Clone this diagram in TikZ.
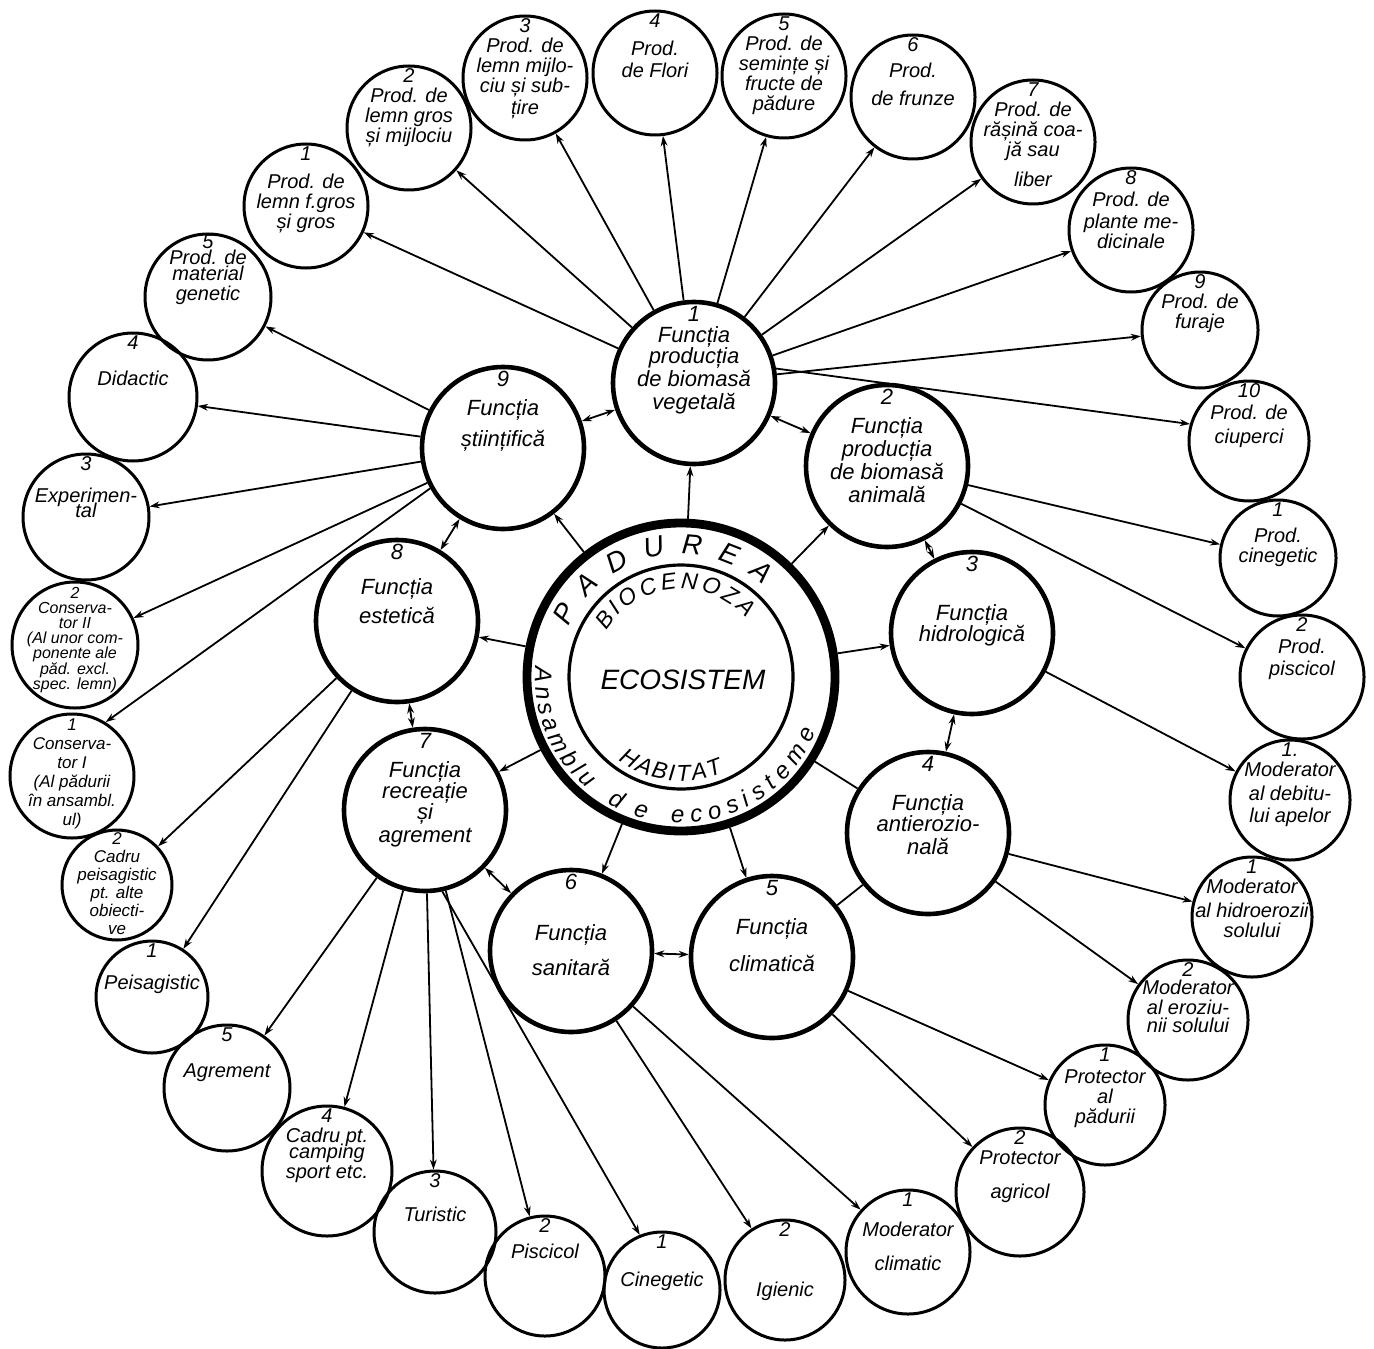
\documentclass[tikz,border=0pt]{standalone}
\usepackage{fontspec}
\setmainfont{Liberation Sans}
\usetikzlibrary{arrows.meta, positioning, decorations.text}
\newcommand{\tightlines}{\lineskiplimit=-20pt\relax}

\begin{document}
\begin{tikzpicture}[x=0.5pt, y=0.5pt,
  ring/.style={circle, draw=black, line width=4.4pt, minimum size=154pt, inner sep=0pt},
  core/.style={circle, draw=black, line width=1.6pt, minimum size=112pt, inner sep=0pt},
  func/.style={circle, draw=black, line width=2.3pt, minimum size=81pt, inner sep=0pt},
  prod/.style={circle, draw=black, line width=1.5pt, minimum size=62pt, inner sep=0pt},
  functext/.style={align=center, inner sep=0pt,
                   font=\fontsize{11}{11.5}\selectfont\itshape\tightlines},
  prodtext/.style={align=center, inner sep=0pt,
                   font=\fontsize{10}{10}\selectfont\itshape\tightlines},
  arctext/.style 2 args={decorate, decoration={text along path, text align={fit to path},
                  text={|\fontsize{#1}{#1}\selectfont\itshape|#2}}},
  arrow/.style={-{Stealth[length=5pt, width=3.4pt]}, line width=0.9pt},
  twoway/.style={{Stealth[length=5pt, width=3.4pt]}-{Stealth[length=5pt, width=3.4pt]}, line width=0.9pt},
  link/.style={line width=0.9pt}
]
  \fill[white] (0,0) rectangle (1374,-1348);
  \useasboundingbox (0,0) rectangle (1374,-1348);

  % centre
  \node[ring] (eco) at (681,-677) {};
  \node[core] (bio) at (681,-677) {};
  \node[font=\fontsize{14}{14}\selectfont\itshape] (ecot) at (683,-680) {ECOSISTEM};
  \path[arctext={14}{PADUREA}]
    ([shift={(156:123)}]eco.center) arc[start angle=156, end angle=48, radius=123];
  \path[arctext={11.5}{BIOCENOZA}]
    ([shift={(148:88)}]eco.center) arc[start angle=148, end angle=42, radius=88];
  \path[arctext={11.5}{HABITAT}]
    ([shift={(233:104)}]eco.center) arc[start angle=233, end angle=294, radius=104];
  \path[arctext={12}{Ansamblu}]
    ([shift={(176:146)}]eco.center) arc[start angle=176, end angle=230, radius=146];
  \path[arctext={12}{de}]
    ([shift={(240:146)}]eco.center) arc[start angle=240, end angle=256, radius=146];
  \path[arctext={12}{ecosisteme}]
    ([shift={(266:146)}]eco.center) arc[start angle=266, end angle=338, radius=146];

  % functions
  \node[func] (veget)  at (694,-383) {};
  \node[func] (anim)   at (887,-466) {};
  \node[func] (hidro)  at (972,-633) {};
  \node[func] (antier) at (928,-833) {};
  \node[func] (clima)  at (772,-957) {};
  \node[func] (sanit)  at (571,-951) {};
  \node[func] (recr)   at (425,-810) {};
  \node[func] (estet)  at (397,-621) {};
  \node[func] (stiint) at (503,-448) {};

  \node[functext, below=3pt of veget.north]  (veget-t)  {1\\[-1pt]Funcția\\[-1pt]producția\\de biomasă\\vegetală};
  \node[functext, below=3pt of anim.north]   (anim-t)   {2\\[3pt]Funcția\\producția\\de biomasă\\animală};
  \node[functext, below=3pt of hidro.north]  (hidro-t)  {3\\[13pt]Funcția\\[-1pt]hidrologică};
  \node[functext, below=3pt of antier.north] (antier-t) {4\\[8pt]Funcția\\[-1pt]antierozio-\\nală};
  \node[functext, below=3pt of clima.north]  (clima-t)  {5\\[8pt]Funcția\\[7pt]climatică};
  \node[functext, below=3pt of sanit.north]  (sanit-t)  {6\\[14pt]Funcția\\[6pt]sanitară};
  \node[functext, below=3pt of recr.north]   (recr-t)   {7\\[3pt]Funcția\\[-1pt]recreație\\[-1pt]și\\agrement};
  \node[functext, below=3pt of estet.north]  (estet-t)  {8\\[6pt]Funcția\\[3pt]estetică};
  \node[functext, below=3pt of stiint.north] (stiint-t) {9\\[3pt]Funcția\\[4pt]științifică};

  % products of 1
  \node[prod] (v1)  at (306,-206) {};
  \node[prod] (v2)  at (409,-128) {};
  \node[prod] (v3)  at (525,-78)  {};
  \node[prod] (v4)  at (655,-73)  {};
  \node[prod] (v5)  at (784,-76)  {};
  \node[prod] (v6)  at (913,-97)  {};
  \node[prod] (v7)  at (1033,-142) {};
  \node[prod] (v8)  at (1131,-230) {};
  \node[prod, minimum size=58pt] (v9)  at (1200,-330) {};
  \node[prod, minimum size=60pt] (v10) at (1249,-441) {};
  \node[prodtext, below=2pt of v1.north]  (v1-t)  {1\\[4pt]Prod. de\\lemn f.gros\\și gros};
  \node[prodtext, below=2pt of v2.north]  (v2-t)  {2\\Prod. de\\lemn gros\\și mijlociu};
  \node[prodtext, below=2pt of v3.north]  (v3-t)  {3\\Prod. de\\lemn mijlo-\\ciu și sub-\\[1pt]țire};
  \node[prodtext, below=2pt of v4.north]  (v4-t)  {4\\[4pt]Prod.\\[1pt]de Flori};
  \node[prodtext, below=2pt of v5.north]  (v5-t)  {5\\Prod. de\\semințe și\\fructe de\\pădure};
  \node[prodtext, below=2pt of v6.north]  (v6-t)  {6\\[3pt]Prod.\\[4pt]de frunze};
  \node[prodtext, below=2pt of v7.north]  (v7-t)  {7\\Prod. de\\rășină coa-\\jă sau\\[5pt]liber};
  \node[prodtext, below=2pt of v8.north]  (v8-t)  {8\\[1pt]Prod. de\\[1pt]plante me-\\dicinale};
  \node[prodtext, below=2pt of v9.north]  (v9-t)  {9\\Prod. de\\furaje};
  \node[prodtext, below=2pt of v10.north] (v10-t) {10\\[1pt]Prod. de\\[2pt]ciuperci};

  % products of 2, 3, 4
  \node[prod, minimum size=58pt] (an1) at (1278,-558) {};
  \node[prod] (an2) at (1302,-677) {};
  \node[prod, minimum size=60pt] (hi1) at (1290,-800) {};
  \node[prod, minimum size=60pt] (er1) at (1252,-917) {};
  \node[prod, minimum size=60pt] (er2) at (1188,-1020) {};
  \node[prodtext, below=2pt of an1.north] (an1-t) {1\\[3pt]Prod.\\cinegetic};
  \node[prodtext, below=2pt of an2.north] (an2-t) {2\\[1pt]Prod.\\[1pt]piscicol};
  \node[prodtext, below=2pt of hi1.north] (hi1-t) {1.\\Moderator\\[2pt]al debitu-\\[1pt]lui apelor};
  \node[prodtext, below=2pt of er1.north] (er1-t) {1\\Moderator\\[2pt]al hidroerozii\\solului};
  \node[prodtext, below=2pt of er2.north] (er2-t) {2\\[-1pt]Moderator\\al eroziu-\\[-1pt]nii solului};

  % products of 5, 6
  \node[prod, minimum size=60pt] (cl1) at (1105,-1105) {};
  \node[prod, minimum size=64pt] (cl2) at (1020,-1192) {};
  \node[prod] (sa1) at (908,-1252) {};
  \node[prod, minimum size=60pt] (sa2) at (785,-1280) {};
  \node[prodtext, below=2pt of cl1.north] (cl1-t) {1\\[1pt]Protector\\al\\pădurii};
  \node[prodtext, below=2pt of cl2.north] (cl2-t) {2\\Protector\\[7pt]agricol};
  \node[prodtext, below=2pt of sa1.north] (sa1-t) {1\\[5pt]Moderator\\[7pt]climatic};
  \node[prodtext, below=2pt of sa2.north] (sa2-t) {2\\[20pt]Igienic};

  % products of 7
  \node[prod, minimum size=58pt] (re1) at (662,-1290) {};
  \node[prod, minimum size=60pt] (re2) at (545,-1276) {};
  \node[prod, minimum size=61pt] (re3) at (435,-1232) {};
  \node[prod, minimum size=65pt] (re4) at (327,-1171) {};
  \node[prod, minimum size=63pt] (re5) at (227,-1088) {};
  \node[prodtext, below=2pt of re1.north] (re1-t) {1\\[9pt]Cinegetic};
  \node[prodtext, below=2pt of re2.north] (re2-t) {2\\[3pt]Piscicol};
  \node[prodtext, below=2pt of re3.north] (re3-t) {3\\[7pt]Turistic};
  \node[prodtext, below=2pt of re4.north] (re4-t) {4\\Cadru pt.\\[-2pt]camping\\sport etc.};
  \node[prodtext, below=2pt of re5.north] (re5-t) {5\\[8pt]Agrement};

  % products of 8, 9
  \node[prod, minimum size=56pt] (es1) at (152,-997) {};
  \node[prod, minimum size=55pt] (es2) at (117,-885) {};
  \node[prod] (st1) at (72,-776) {};
  \node[prod, minimum size=63pt] (st2) at (75,-645) {};
  \node[prod, minimum size=63pt] (st3) at (86,-517) {};
  \node[prod, minimum size=64pt] (st4) at (133,-397) {};
  \node[prod, minimum size=63pt] (st5) at (208,-297) {};
  \node[prodtext, below=2pt of es1.north] (es1-t) {1\\[6pt]Peisagistic};
  \node[prodtext, font=\fontsize{8.5}{9}\selectfont\itshape\tightlines, below=2pt of es2.north] (es2-t)
    {2\\Cadru\\peisagistic\\pt. alte\\obiecti-\\ve};
  \node[prodtext, font=\fontsize{8.5}{9.5}\selectfont\itshape\tightlines, below=3pt of st1.north] (st1-t)
    {1\\Conserva-\\tor I\\(Al pădurii\\în ansambl.\\ul)};
  \node[prodtext, font=\fontsize{8}{7.6}\selectfont\itshape\tightlines, below=3pt of st2.north] (st2-t)
    {2\\Conserva-\\tor II\\(Al unor com-\\ponente ale\\păd. excl.\\spec. lemn)};
  \node[prodtext, below=2pt of st3.north] (st3-t) {3\\[6pt]Experimen-\\[-2.5pt]tal};
  \node[prodtext, below=2pt of st4.north] (st4-t) {4\\[8pt]Didactic};
  \node[prodtext, below=1pt of st5.north] (st5-t) {5\\[-2pt]Prod. de\\[-2pt]material\\genetic};

  % centre to functions
  \draw[arrow] (eco) -- (veget);
  \draw[arrow] (eco) -- (anim);
  \draw[arrow] (eco) -- (hidro);
  \draw[link]  (eco) -- (antier);
  \draw[arrow] (eco) -- (clima);
  \draw[arrow] (eco) -- (sanit);
  \draw[arrow] (eco) -- (recr);
  \draw[arrow] (eco) -- (estet);
  \draw[arrow] (eco) -- (stiint);

  % between functions
  \draw[twoway] (stiint) -- (veget);
  \draw[twoway] (veget) -- (anim);
  \draw[twoway] (anim) -- (hidro);
  \draw[twoway] (hidro) -- (antier);
  \draw[link]   (antier) -- (clima);
  \draw[twoway] (clima) -- (sanit);
  \draw[twoway] (sanit) -- (recr);
  \draw[twoway] (recr) -- (estet);
  \draw[twoway] (estet) -- (stiint);

  % functions to products
  \draw[arrow] (veget) -- (v1);
  \draw[arrow] (veget) -- (v2);
  \draw[arrow] (veget) -- (v3);
  \draw[arrow] (veget) -- (v4);
  \draw[arrow] (veget) -- (v5);
  \draw[arrow] (veget) -- (v6);
  \draw[arrow] (veget) -- (v7);
  \draw[arrow] (veget) -- (v8);
  \draw[arrow] (veget) -- (v9);
  \draw[arrow] (veget.10) -- (v10.164);
  \draw[arrow] (anim) -- (an1);
  \draw[arrow] (anim) -- (an2);
  \draw[arrow] (hidro) -- (hi1);
  \draw[arrow] (antier) -- (er1);
  \draw[arrow] (antier) -- (er2);
  \draw[arrow] (clima) -- (cl1);
  \draw[arrow] (clima) -- (cl2);
  \draw[arrow] (sanit) -- (sa1);
  \draw[arrow] (sanit) -- (sa2);
  \draw[arrow] (recr.282) -- (re1.112);
  \draw[arrow] (recr) -- (re2);
  \draw[arrow] (recr) -- (re3);
  \draw[arrow] (recr) -- (re4);
  \draw[arrow] (recr) -- (re5);
  \draw[arrow] (estet) -- (es1);
  \draw[arrow] (estet) -- (es2);
  \draw[arrow] (stiint.209) -- (st1.58);
  \draw[arrow] (stiint) -- (st2);
  \draw[arrow] (stiint) -- (st3);
  \draw[arrow] (stiint) -- (st4);
  \draw[arrow] (stiint) -- (st5);
\end{tikzpicture}
\end{document}
